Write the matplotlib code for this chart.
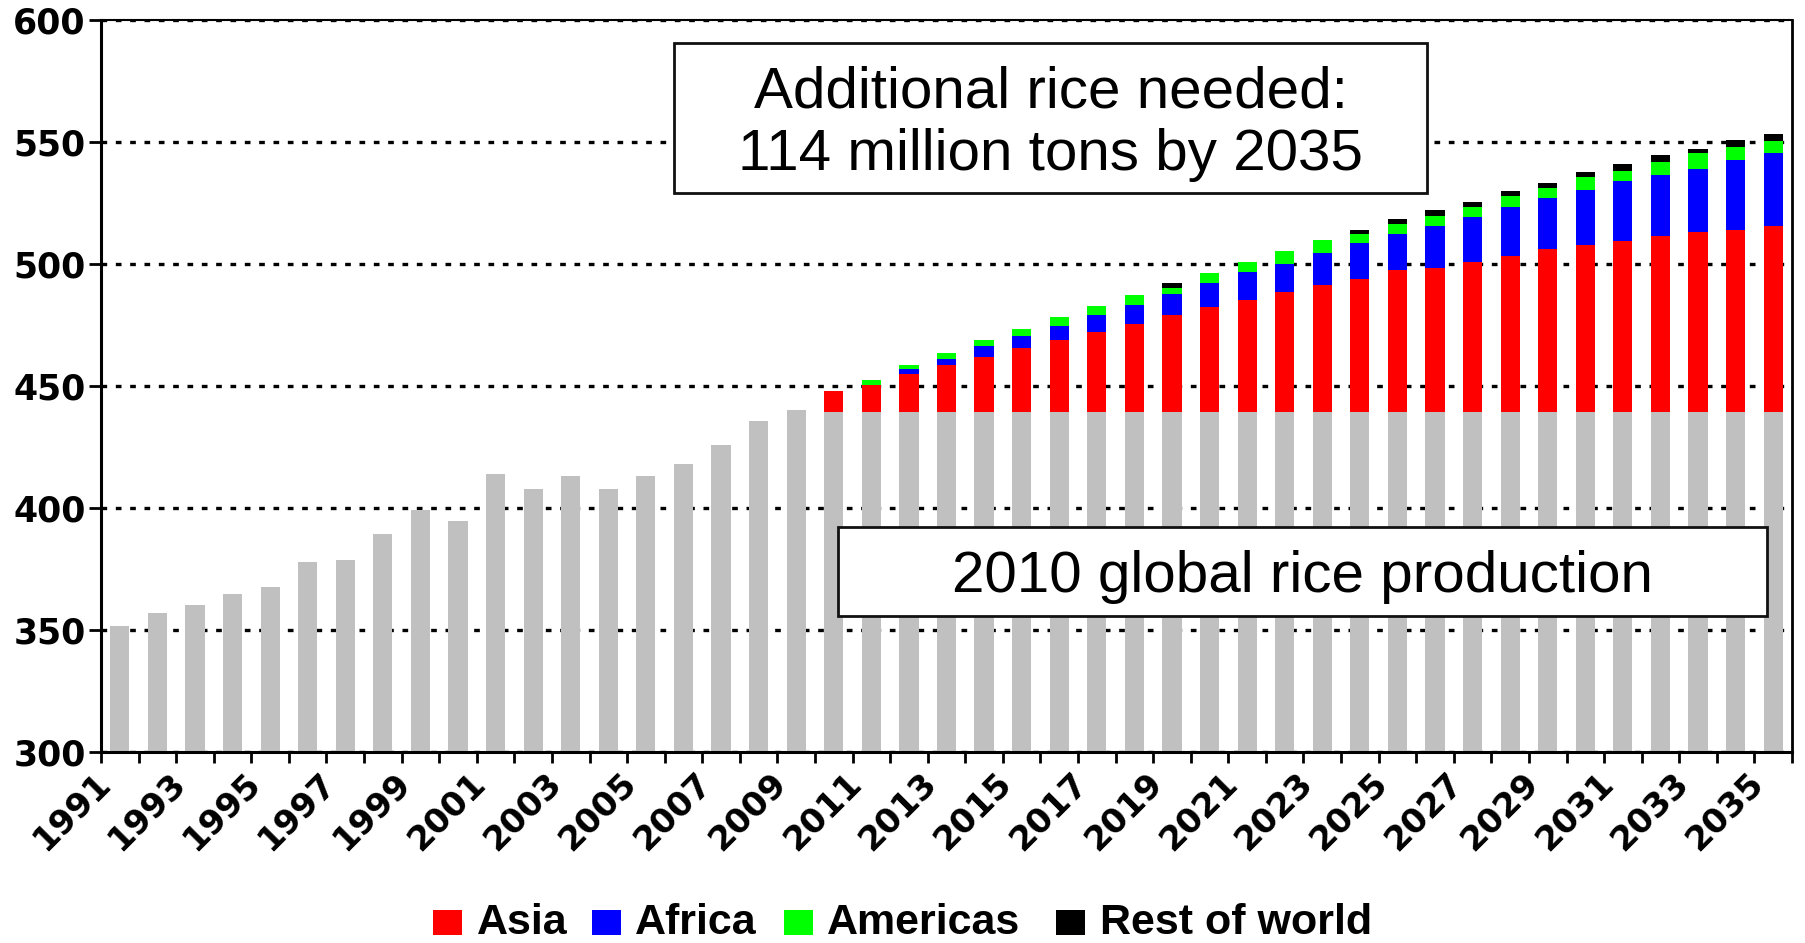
import matplotlib
matplotlib.use("Agg")
import matplotlib.pyplot as plt
import matplotlib.transforms as mtransforms
from matplotlib.patches import Rectangle
import numpy as np

plt.rcParams['font.family'] = ['Liberation Sans', 'DejaVu Sans']

# ---------------- data ----------------
years = list(range(1991, 2036))
historical = [351.8, 357.1, 360.5, 364.9, 367.6, 378.0, 378.8, 389.3, 399.1, 394.7,
              413.9, 407.9, 413.1, 407.9, 413.1, 418.2, 426.1, 435.6, 440.1]   # 1991-2009
baseline_2010 = 439.5                                                            # 2010 global production
asia = [8.7, 11.2, 15.5, 19.1, 22.5, 26.1, 29.5, 32.9, 36.1, 39.6, 43.1, 45.7, 49.3,
        51.9, 54.5, 58.0, 58.8, 61.4, 64.1, 66.6, 68.3, 70.2, 71.9, 73.7, 74.5, 76.2]
africa = [0.0, 0.0, 1.9, 2.6, 4.4, 4.9, 5.8, 6.8, 7.9, 8.6, 9.6, 11.5, 11.2,
          13.1, 14.9, 14.8, 17.4, 18.3, 19.9, 20.9, 22.8, 24.4, 25.3, 26.0, 28.8, 29.8]
americas = [0.0, 1.7, 1.7, 2.6, 2.6, 3.0, 3.7, 3.6, 3.8, 2.5, 4.1, 4.4, 5.4,
            5.3, 3.5, 4.4, 4.3, 4.4, 4.3, 4.4, 5.0, 4.3, 5.2, 6.3, 5.2, 5.1]
rest = [0.0, 0.0, 0.0, 0.0, 0.0, 0.0, 0.0, 0.0, 0.0, 2.0, 0.0, 0.0, 0.0,
        0.0, 1.8, 2.0, 2.1, 2.0, 2.1, 2.0, 2.2, 2.7, 2.7, 1.9, 2.9, 2.7]
series_names = ["Asia", "Africa", "Americas", "Rest of world"]
series_colors = ["#FF0000", "#0000FF", "#00FF00", "#000000"]
title_lines = ["Additional rice needed:", "114 million tons by 2035"]
box2_text = "2010 global rice production"

# ---------------- figure ----------------
W, H = 1805, 943
fig = plt.figure(figsize=(W / 100, H / 100), dpi=100)
fig.patch.set_facecolor("white")

def fx(px):
    return px / W

def fy(py):
    return 1 - py / H

ax_left, ax_right, ax_top, ax_bottom = 101, 1792, 20.3, 752.3
ax = fig.add_axes([fx(ax_left), fy(ax_bottom), fx(ax_right - ax_left), (ax_bottom - ax_top) / H])

n = len(years)
x = np.arange(n)
gray = historical + [baseline_2010] * (n - len(historical))
bw = 0.51
ax.bar(x, gray, width=bw, color="#C0C0C0", linewidth=0, zorder=2)

proj_idx = x[len(historical):]
bottom = np.array([baseline_2010] * len(proj_idx))
for vals, col in zip([asia, africa, americas, rest], series_colors):
    v = np.array(vals)
    ax.bar(proj_idx, v, bottom=bottom, width=bw, color=col, linewidth=0, zorder=2)
    bottom = bottom + v

ax.set_xlim(-0.5, n - 0.5)
ax.set_ylim(300, 600)

bold_font = ['DejaVu Sans']

# y axis
ax.set_yticks(np.arange(300, 601, 50))
ax.set_yticklabels([str(v) for v in range(300, 601, 50)], fontsize=25, fontweight="bold",
                   family=bold_font)
ax.tick_params(axis="y", direction="out", length=9, width=2, pad=2, colors="black")
for t, v in zip(ax.yaxis.get_major_ticks(), range(300, 601, 50)):
    if v in (350, 400, 450):
        t.tick1line.set_color("#B0B0B0")

# x ticks at category boundaries, no labels
ax.set_xticks(np.arange(-0.5, n, 1.0))
ax.set_xticklabels([])
ax.tick_params(axis="x", direction="out", length=8, width=2)

# year labels, every other year, rotated
trans = mtransforms.blended_transform_factory(ax.transData, fig.transFigure)
for k in range(0, n, 2):
    ax.text(k - 0.70, fy(767), str(years[k]), transform=trans, rotation=45,
            ha="right", va="top", rotation_mode="anchor",
            fontsize=24.5, fontweight="bold", family=bold_font, clip_on=False)

# grid
ax.set_axisbelow(True)
ax.yaxis.grid(True, color="black", linewidth=2.4, linestyle=(0, (1.7, 2.6)), zorder=1)
ax.xaxis.grid(False)

for side, lw in [("left", 2.2), ("bottom", 2.2), ("right", 2.0), ("top", 1.5)]:
    ax.spines[side].set_linewidth(lw)
    ax.spines[side].set_color("black")

# ---------------- text boxes ----------------
def add_box(x0, y0, x1, y1):
    r = Rectangle((fx(x0), fy(y1)), fx(x1 - x0), (y1 - y0) / H, transform=fig.transFigure,
                  facecolor="white", edgecolor="#111111", linewidth=2.0, zorder=5)
    fig.add_artist(r)

add_box(674, 42.7, 1427, 193)
fig.text(fx(1050.5), fy(108), title_lines[0], ha="center", va="baseline", fontsize=42, zorder=6)
fig.text(fx(1050.5), fy(170), title_lines[1], ha="center", va="baseline", fontsize=42, zorder=6)

add_box(838, 527, 1767, 616)
fig.text(fx(1302.5), fy(592), box2_text, ha="center", va="baseline", fontsize=42, zorder=6)

# ---------------- legend ----------------
sq_x = [433, 592, 784, 1056]
tx_x = [477, 635, 827, 1100]
for sx, tx, name, col in zip(sq_x, tx_x, series_names, series_colors):
    fig.add_artist(Rectangle((fx(sx), fy(935)), fx(29), 25 / H, transform=fig.transFigure,
                             facecolor=col, edgecolor="none", zorder=5))
    fig.text(fx(tx), fy(934), name, ha="left", va="baseline", fontsize=31, fontweight="bold")

fig.savefig("out.png", dpi=100, facecolor="white")
